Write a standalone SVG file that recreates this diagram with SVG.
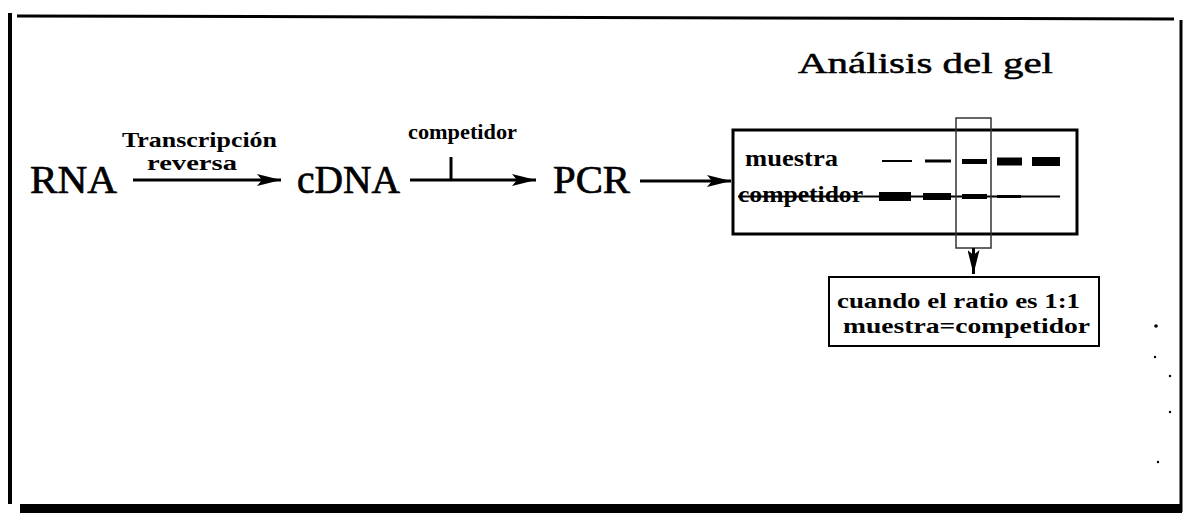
<svg xmlns="http://www.w3.org/2000/svg" width="1184" height="513" viewBox="0 0 1184 513">
  <style>
    .big { font-family: "Liberation Serif", "Times New Roman", serif; font-size: 39px; fill: #000; stroke: #000; stroke-width: 0.7; }
    .title { font-family: "Liberation Serif", "Times New Roman", serif; font-size: 30px; fill: #000; stroke: #000; stroke-width: 0.5; }
    .lbl { font-family: "Liberation Serif", "Times New Roman", serif; font-weight: bold; fill: #000; }
    .wire { stroke: #000; stroke-width: 3; fill: none; }
    .frame { stroke: #000; fill: none; }
    .band { fill: #000; }
  </style>
  <defs>
    <marker id="head" markerUnits="userSpaceOnUse" viewBox="0 0 24 12" refX="24" refY="6" markerWidth="24" markerHeight="12" orient="auto">
      <path d="M0,0 L24,6 L0,12 L5,6 Z" fill="#000"/>
    </marker>
  </defs>
  <rect width="1184" height="513" fill="#fff"/>

  <!-- page border -->
  <g id="border">
    <line class="frame" x1="17" y1="16" x2="1174" y2="19" stroke-width="3"/>
    <line class="frame" x1="10" y1="13" x2="10" y2="504" stroke-width="4"/>
    <line class="frame" x1="1181" y1="20" x2="1181" y2="512" stroke-width="3"/>
    <rect x="20" y="504" width="1162" height="9" fill="#000"/>
  </g>

  <!-- flow steps -->
  <g id="rna">
    <text class="big" x="30" y="193" textLength="87" lengthAdjust="spacingAndGlyphs">RNA</text>
  </g>
  <g id="cdna">
    <text class="big" x="297" y="193" textLength="103" lengthAdjust="spacingAndGlyphs">cDNA</text>
  </g>
  <g id="pcr">
    <text class="big" x="553" y="193" textLength="77" lengthAdjust="spacingAndGlyphs">PCR</text>
  </g>

  <!-- gel analysis panel -->
  <g id="gel">
    <text class="title" x="798" y="73" textLength="255" lengthAdjust="spacingAndGlyphs">Análisis del gel</text>
    <rect class="frame" x="733" y="130" width="344" height="104" stroke-width="3"/>
    <text class="lbl" x="745" y="166" font-size="23" textLength="93" lengthAdjust="spacingAndGlyphs">muestra</text>
    <text class="lbl" x="738" y="202" font-size="23" textLength="125" lengthAdjust="spacingAndGlyphs">competidor</text>
    <!-- sample lane bands -->
    <rect class="band" x="882" y="160" width="30" height="2"/>
    <rect class="band" x="925" y="159.5" width="26" height="3"/>
    <rect class="band" x="962" y="159" width="25" height="5"/>
    <rect class="band" x="997" y="157.5" width="25" height="8"/>
    <rect class="band" x="1032" y="157" width="28" height="9"/>
    <!-- competitor lane: baseline through all bands -->
    <line x1="738" y1="196.5" x2="1060" y2="196.5" stroke="#000" stroke-width="2"/>
    <rect class="band" x="879" y="192" width="32" height="9"/>
    <rect class="band" x="923" y="193" width="28" height="7"/>
    <rect class="band" x="962" y="194" width="25" height="5"/>
    <rect class="band" x="997" y="195" width="24" height="3"/>
    <!-- highlighted equal lane -->
    <rect x="956" y="118" width="35" height="130" fill="none" stroke="#333" stroke-width="1.5"/>
  </g>

  <!-- result note -->
  <g id="result">
    <rect class="frame" x="829" y="277" width="270" height="69" stroke-width="2"/>
    <text class="lbl" x="837" y="308" font-size="21" textLength="243" lengthAdjust="spacingAndGlyphs">cuando el ratio es 1:1</text>
    <text class="lbl" x="843" y="333" font-size="21" textLength="247" lengthAdjust="spacingAndGlyphs">muestra=competidor</text>
  </g>

  <!-- arrows and their labels -->
  <g id="connectors">
    <line class="wire" x1="133" y1="180" x2="281" y2="180" marker-end="url(#head)"/>
    <text class="lbl" x="122" y="147" font-size="21" textLength="155" lengthAdjust="spacingAndGlyphs">Transcripción</text>
    <text class="lbl" x="147" y="170" font-size="20" textLength="90" lengthAdjust="spacingAndGlyphs">reversa</text>

    <line class="wire" x1="410" y1="180" x2="536" y2="180" marker-end="url(#head)"/>
    <line class="wire" x1="451" y1="157" x2="451" y2="180"/>
    <text class="lbl" x="408" y="139" font-size="20" textLength="109" lengthAdjust="spacingAndGlyphs">competidor</text>

    <line class="wire" x1="640" y1="181" x2="731" y2="181" marker-end="url(#head)"/>

    <line class="wire" x1="973.5" y1="248" x2="973.5" y2="274" stroke-width="2" marker-end="url(#head)"/>
  </g>

  <!-- small specks near the right edge -->
  <g id="specks" fill="#000">
    <circle cx="1156" cy="326" r="1.8"/>
    <circle cx="1155" cy="357" r="1.2"/>
    <circle cx="1170" cy="376" r="1.2"/>
    <circle cx="1170" cy="412" r="1.2"/>
    <circle cx="1158" cy="462" r="1.2"/>
  </g>
</svg>
